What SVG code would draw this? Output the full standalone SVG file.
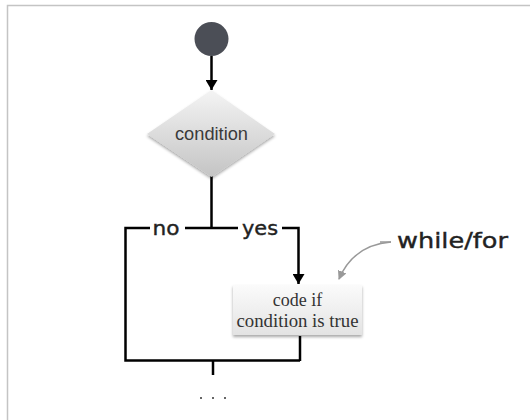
<svg xmlns="http://www.w3.org/2000/svg" width="530" height="420" viewBox="0 0 530 420">
  <defs>
    <linearGradient id="diamondFill" x1="0" y1="0" x2="0" y2="1">
      <stop offset="0" stop-color="#f4f4f4"/>
      <stop offset="1" stop-color="#c4c4c4"/>
    </linearGradient>
    <linearGradient id="boxFill" x1="0" y1="0" x2="0" y2="1">
      <stop offset="0" stop-color="#fbfbfb"/>
      <stop offset="1" stop-color="#e3e3e3"/>
    </linearGradient>
    <filter id="softShadow" x="-20%" y="-20%" width="140%" height="150%">
      <feGaussianBlur in="SourceAlpha" stdDeviation="1.5"/>
      <feOffset dx="0" dy="1.5" result="b"/>
      <feComponentTransfer><feFuncA type="linear" slope="0.35"/></feComponentTransfer>
      <feMerge><feMergeNode/><feMergeNode in="SourceGraphic"/></feMerge>
    </filter>
    <marker id="arrowBlack" markerWidth="10" markerHeight="12" refX="10" refY="6" orient="auto" markerUnits="userSpaceOnUse">
      <path d="M0,0 L10,6 L0,12 Z" fill="#000"/>
    </marker>
    <marker id="arrowGray" markerWidth="9" markerHeight="9" refX="8" refY="4.5" orient="auto" markerUnits="userSpaceOnUse">
      <path d="M0,0 L9,4.5 L0,9 Z" fill="#999"/>
    </marker>
  </defs>
  <style>
    .wire { fill: none; stroke: #000; stroke-width: 2.5; }
    .note { fill: none; stroke: #999; stroke-width: 1.5; }
    .hand { font-family: "DejaVu Sans", "Liberation Sans", sans-serif; fill: #222; stroke: #222; stroke-width: 0.4; }
    .serif { font-family: "Liberation Serif", serif; font-size: 18px; fill: #333; text-anchor: middle; }
  </style>

  <rect width="530" height="420" fill="#fff"/>
  <path d="M7.5,420 V5.5 H530" fill="none" stroke="#c4c4c4" stroke-width="1.5"/>

  <g id="connectors">
    <line class="wire" x1="211.5" y1="56" x2="211.5" y2="90" marker-end="url(#arrowBlack)"/>
    <line class="wire" x1="211.5" y1="176" x2="211.5" y2="228"/>
    <line class="wire" x1="185" y1="228" x2="238" y2="228"/>
    <path class="wire" d="M150,228 H125.5 V360.5 H300"/>
    <path class="wire" d="M282,228 H298.5 V284" marker-end="url(#arrowBlack)"/>
    <line class="wire" x1="300" y1="336" x2="300" y2="361"/>
    <line class="wire" x1="213" y1="360" x2="213" y2="375"/>
    <text class="hand" x="166" y="235" font-size="20" text-anchor="middle" textLength="27" lengthAdjust="spacingAndGlyphs">no</text>
    <text class="hand" x="260" y="235" font-size="20" text-anchor="middle" textLength="36" lengthAdjust="spacingAndGlyphs">yes</text>
  </g>

  <g id="start">
    <circle cx="211.5" cy="39" r="17" fill="#4b4e56"/>
  </g>

  <g id="condition">
    <polygon points="211.5,90 275,134 211.5,177 147,134" fill="url(#diamondFill)" filter="url(#softShadow)"/>
    <text x="211.5" y="140" font-family="'Liberation Sans', Arial, sans-serif" font-size="18" fill="#3a3a3a" text-anchor="middle" textLength="73" lengthAdjust="spacingAndGlyphs">condition</text>
  </g>

  <g id="body">
    <rect x="233" y="285" width="129" height="50" fill="url(#boxFill)" filter="url(#softShadow)"/>
    <text class="serif" x="297.5" y="306">code if</text>
    <text class="serif" x="297.5" y="327" textLength="122" lengthAdjust="spacingAndGlyphs">condition is true</text>
  </g>

  <g id="loopNote">
    <line class="note" x1="380" y1="242" x2="391" y2="242"/>
    <path class="note" d="M391,242 C365,244 348,258 339,279" marker-end="url(#arrowGray)"/>
    <text class="hand" x="397" y="248" font-size="22" textLength="111" lengthAdjust="spacingAndGlyphs">while/for</text>
  </g>

  <g id="continuation" fill="#333">
    <circle cx="201" cy="398" r="1"/>
    <circle cx="213" cy="398" r="1"/>
    <circle cx="225" cy="398" r="1"/>
  </g>
</svg>
